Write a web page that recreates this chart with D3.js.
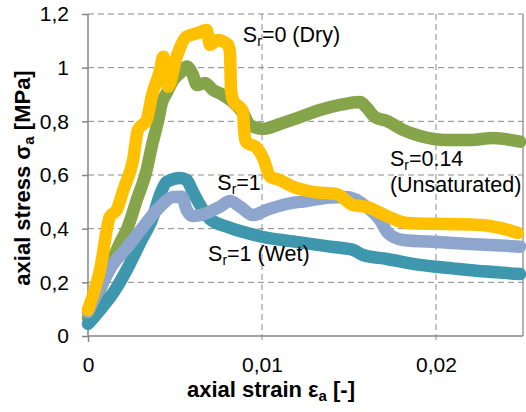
<!DOCTYPE html>
<html><head><meta charset="utf-8">
<script src="https://cdn.jsdelivr.net/npm/d3@7"></script>
<style>
html,body{margin:0;padding:0;background:#fff;}
svg{display:block;font-family:"Liberation Sans",Arial,sans-serif;}
</style></head>
<body><svg id="c" width="526" height="412"></svg>
<script>
// ---- data (axial strain [-], axial stress [MPa]) ----
const dryStrain = [0,0.00069,0.00126,0.00165,0.00203,0.00259,0.00287,0.00337,0.00366,0.00414,0.00433,0.0046,0.0051,0.00567,0.00632,0.00682,0.00701,0.00747,0.00805,0.00816,0.00822,0.00833,0.00891,0.00897,0.00908,0.00971,0.01011,0.01046,0.01103,0.01178,0.01293,0.01429,0.01523,0.01603,0.01717,0.01832,0.02061,0.02253,0.02368,0.02471];
const dryStress = [0.097,0.246,0.445,0.47,0.544,0.656,0.768,0.805,0.892,0.991,1.041,0.929,1.041,1.116,1.129,1.14,1.085,1.103,1.085,1.055,0.917,0.88,0.835,0.768,0.723,0.701,0.656,0.594,0.581,0.556,0.537,0.529,0.488,0.481,0.447,0.421,0.417,0.414,0.403,0.384];

const unsatStrain = [0,0.00126,0.00184,0.00222,0.0028,0.00337,0.00366,0.00404,0.00424,0.00452,0.0049,0.00529,0.00567,0.00603,0.00626,0.00672,0.00718,0.00776,0.00833,0.00891,0.00931,0.01006,0.01103,0.01218,0.01333,0.01448,0.01563,0.01603,0.01649,0.01718,0.0181,0.01908,0.02063,0.02195,0.02328,0.02483];
const unsatStress = [0.067,0.26,0.347,0.395,0.507,0.619,0.706,0.805,0.868,0.906,0.954,0.98,1.004,0.973,0.935,0.943,0.917,0.898,0.872,0.831,0.786,0.772,0.79,0.816,0.842,0.861,0.872,0.85,0.816,0.801,0.768,0.745,0.73,0.73,0.738,0.724];

const wetStrain = [0,0.00069,0.00144,0.00222,0.00299,0.00374,0.00414,0.00452,0.00529,0.00567,0.00603,0.00661,0.00701,0.00805,0.00914,0.01006,0.01207,0.01391,0.01523,0.0158,0.01718,0.01908,0.02098,0.02291,0.02483];
const wetStress = [0.045,0.097,0.16,0.246,0.347,0.445,0.526,0.574,0.589,0.581,0.537,0.47,0.436,0.406,0.384,0.369,0.35,0.333,0.321,0.302,0.287,0.265,0.252,0.24,0.231];

const satStrain = [0,0.00069,0.00144,0.00222,0.00316,0.00414,0.00489,0.0054,0.00567,0.00603,0.00682,0.00759,0.00816,0.00874,0.00948,0.01027,0.01142,0.01257,0.01391,0.01487,0.01602,0.01678,0.01724,0.0181,0.02006,0.02195,0.02483];
const satStress = [0.089,0.179,0.268,0.328,0.406,0.482,0.518,0.519,0.47,0.447,0.458,0.482,0.503,0.482,0.451,0.47,0.492,0.503,0.516,0.518,0.481,0.432,0.384,0.358,0.35,0.343,0.333];

const xTicks = [0, 0.01, 0.02];
const yTicks = [0, 0.2, 0.4, 0.6, 0.8, 1.0, 1.2];
const seriesNames = ["Sr=0.14", "Sr=1 (Wet)", "Sr=1", "Sr=0 (Dry)"];
const seriesColors = ["#86A449", "#3E97AD", "#8EA6CE", "#FFC000"];

// ---- layout ----
const W = 526, H = 412;
const m = {left: 88, right: 3, top: 14, bottom: 76};
const svg = d3.select("#c");
const x = d3.scaleLinear().domain([0, 0.025]).range([m.left, W - m.right]);
const y = d3.scaleLinear().domain([0, 1.2]).range([H - m.bottom, m.top]);
const loc = d3.formatLocale({decimal: ",", thousands: ".", grouping: [3], currency: ["", ""]});
const fmt = v => loc.format("~g")(+v.toFixed(3));

const gridColor = "#8a8a8a";
// horizontal gridlines
svg.append("g").selectAll("line").data(yTicks.filter(d => d > 0)).join("line")
  .attr("x1", x(0)).attr("x2", x(0.025)).attr("y1", d => y(d)).attr("y2", d => y(d))
  .attr("stroke", gridColor).attr("stroke-width", 1).attr("stroke-dasharray", "6,4");
// vertical gridlines (extend as ticks below axis)
svg.append("g").selectAll("line").data(xTicks.filter(d => d > 0)).join("line")
  .attr("x1", d => x(d)).attr("x2", d => x(d)).attr("y1", y(1.2)).attr("y2", y(0) + 6)
  .attr("stroke", gridColor).attr("stroke-width", 1).attr("stroke-dasharray", "6,4");
// right border
svg.append("line").attr("x1", x(0.025)).attr("x2", x(0.025)).attr("y1", y(1.2)).attr("y2", y(0))
  .attr("stroke", "#8a8a8a").attr("stroke-width", 1.3);

// axes
const yAxis = d3.axisLeft(y).tickValues(yTicks).tickSize(6).tickPadding(13).tickFormat(fmt);
const xAxis = d3.axisBottom(x).tickValues(xTicks).tickSize(6).tickPadding(15).tickFormat(fmt);
const gy = svg.append("g").attr("transform", `translate(${m.left},0)`).call(yAxis);
const gx = svg.append("g").attr("transform", `translate(0,${H - m.bottom})`).call(xAxis);
[gx, gy].forEach(g => {
  g.select(".domain").attr("stroke", "#868686").attr("stroke-width", 1.5);
  g.selectAll(".tick line").attr("stroke", "#868686").attr("stroke-width", 1.5);
  g.selectAll(".tick text").attr("font-size", 21).attr("fill", "#000")
    .attr("font-family", "Liberation Sans, Arial, sans-serif");
});
gx.select(".domain").attr("d", `M${x(0)},0H${x(0.025)}`);
gy.select(".domain").attr("d", `M0,${y(0)}V${y(1.2)}`);
gx.selectAll(".tick").filter(d => d > 0).select("line").remove();

// series
const series = [
  {xs: unsatStrain, ys: unsatStress, c: seriesColors[0]},
  {xs: wetStrain, ys: wetStress, c: seriesColors[1]},
  {xs: satStrain, ys: satStress, c: seriesColors[2]},
  {xs: dryStrain, ys: dryStress, c: seriesColors[3]}
];
const line = d3.line().x(d => x(d[0])).y(d => y(d[1])).curve(d3.curveMonotoneX);
svg.append("g").selectAll("path").data(series).join("path")
  .attr("d", s => line(s.xs.map((v, i) => [v, s.ys[i]])))
  .attr("fill", "none").attr("stroke", s => s.c).attr("stroke-width", 12.5)
  .attr("stroke-linecap", "round").attr("stroke-linejoin", "round");

// annotations
const labelMain = ["S", "S", "S", "S"];
const labelSub = ["r", "r", "r", "r"];
const labelRest = ["=0 (Dry)", "=0.14", "=1", "=1 (Wet)"];
const labelPos = [[0.0089, 1.095], [0.01735, 0.633], [0.00743, 0.544], [0.0069, 0.279]];
labelPos.forEach((p, i) => {
  const t = svg.append("text").attr("x", x(p[0])).attr("y", y(p[1]))
    .attr("font-size", 21.5).attr("fill", "#000");
  t.append("tspan").text(labelMain[i]);
  t.append("tspan").text(labelSub[i]).attr("font-size", 14).attr("dy", 4);
  t.append("tspan").text(labelRest[i]).attr("dy", -4);
});
svg.append("text").attr("x", x(0.01735)).attr("y", y(0.535))
  .attr("font-size", 21.5).attr("fill", "#000").text("(Unsaturated)");

// axis titles
const xt = svg.append("text").attr("x", 271).attr("y", 397).attr("text-anchor", "middle")
  .attr("font-size", 22).attr("font-weight", "bold").attr("fill", "#000");
xt.append("tspan").text("axial strain ε");
xt.append("tspan").text("a").attr("font-size", 15).attr("dy", 4);
xt.append("tspan").text(" [-]").attr("dy", -4);

const yt = svg.append("text").attr("transform", `translate(30,${(m.top + H - m.bottom) / 2 + 3}) rotate(-90)`)
  .attr("text-anchor", "middle").attr("font-size", 22).attr("font-weight", "bold").attr("fill", "#000");
yt.append("tspan").text("axial stress σ");
yt.append("tspan").text("a").attr("font-size", 15).attr("dy", 4);
yt.append("tspan").text(" [MPa]").attr("dy", -4);
</script></body></html>
